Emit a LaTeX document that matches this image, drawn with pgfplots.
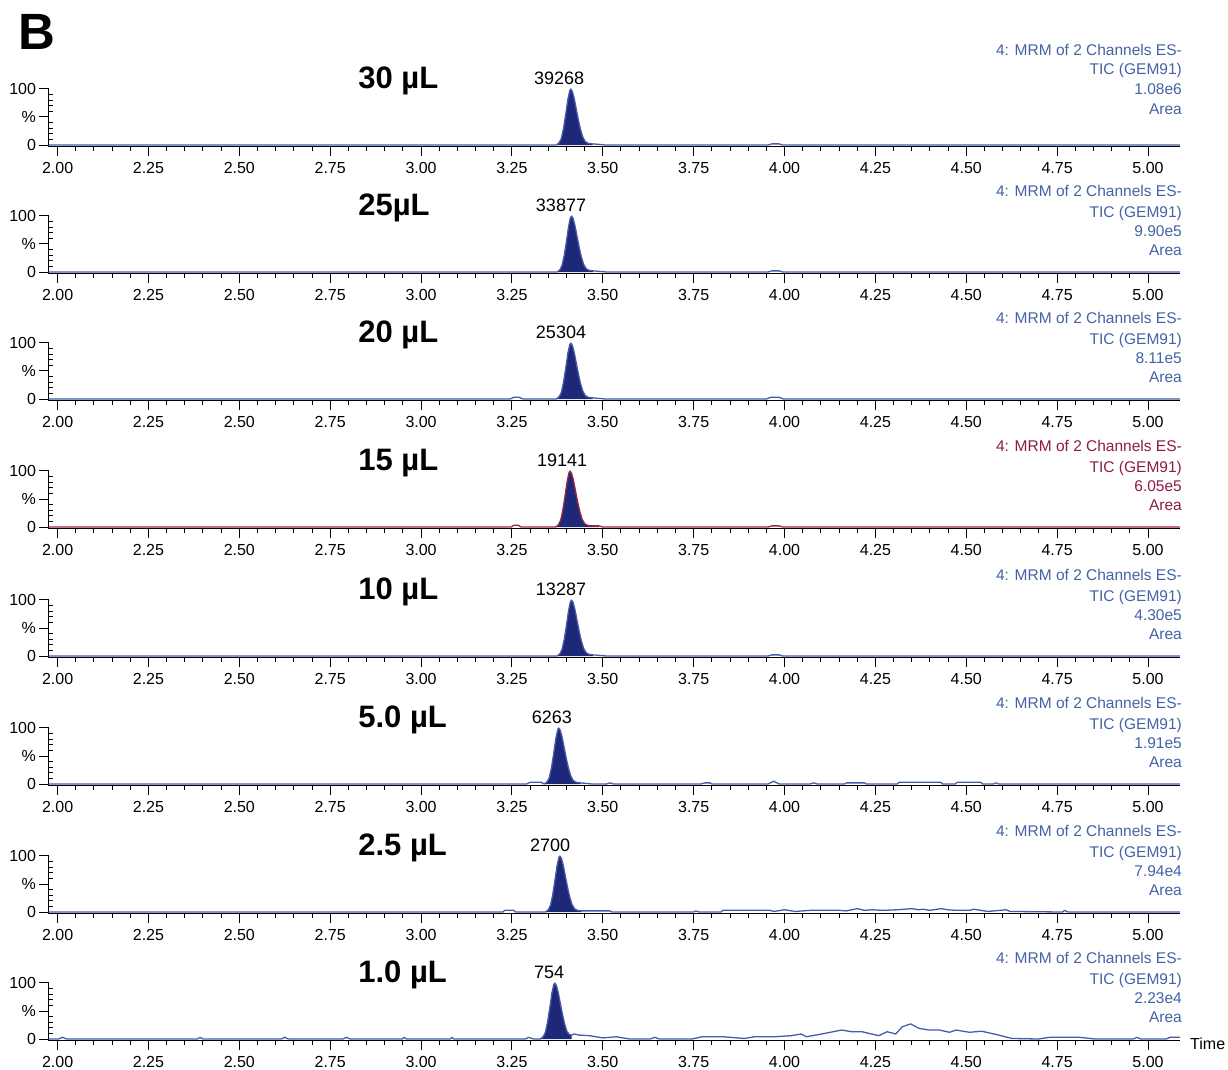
\documentclass[border=0pt]{standalone}
\usepackage{pgfplots}
\pgfplotsset{compat=1.18}
\usepackage{fontspec}
\setmainfont{Liberation Sans}

\definecolor{trace}{HTML}{4A5AA8}
\definecolor{peakfill}{HTML}{1E2878}
\definecolor{note}{HTML}{4462A4}
\definecolor{noteR}{HTML}{8C1A4A}
\definecolor{traceR}{HTML}{A0283C}

\pgfplotsset{
  chrom/.style={
    scale only axis, width=1131.5pt, height=57.7pt,
    xmin=1.975, xmax=5.088, ymin=-3, ymax=100,
    axis x line=bottom, axis y line=left,
    axis line style={-, line width=1.1pt, black},
    xtick={2,2.25,2.5,2.75,3,3.25,3.5,3.75,4,4.25,4.5,4.75,5},
    xticklabels={2.00,2.25,2.50,2.75,3.00,3.25,3.50,3.75,4.00,4.25,4.50,4.75,5.00},
    minor x tick num=4,
    ytick={0,50,100}, yticklabels={0,\%,100}, minor y tick num=4,
    tick align=outside, major tick length=9pt, minor tick length=4.5pt,
    tick style={black, line width=1pt},
    minor y tick style={xshift=4.5pt},
    ticklabel style={font=\fontsize{16}{18}\selectfont},
    xticklabel style={yshift=-3pt},
    clip=false, anchor=south west,
  },
  peak/.style={draw=none, fill=peakfill},
  tr/.style={trace, line width=1.3pt, line join=round},
}

% annotation block right of each panel: colour, value, baseline offsets
\newcommand{\notes}[6]{%
  \node[anchor=base east, inner sep=0, text=#1, font=\fontsize{15.5}{17}\selectfont] at (axis cs:5.0935,#3) {4: MRM of 2 Channels ES-};
  \node[anchor=base east, inner sep=0, text=#1, font=\fontsize{15.5}{17}\selectfont] at (axis cs:5.0935,#4) {TIC (GEM91)};
  \node[anchor=base east, inner sep=0, text=#1, font=\fontsize{15.5}{17}\selectfont] at (axis cs:5.0935,#5) {#2};
  \node[anchor=base east, inner sep=0, text=#1, font=\fontsize{15.5}{17}\selectfont] at (axis cs:5.0935,#6) {Area};
}
\newcommand{\vol}[1]{\node[anchor=base west, inner sep=0, font=\bfseries\fontsize{31}{34}\selectfont] at (axis cs:2.827,101) {#1};}
\newcommand{\plab}[2]{\node[anchor=base, inner sep=0, font=\fontsize{18}{20}\selectfont] at (axis cs:#1,108) {#2};}

\begin{document}
\begin{tikzpicture}
\useasboundingbox (0,0) rectangle (1228pt,1070pt);
\node[anchor=base west, inner sep=0, font=\bfseries\fontsize{51}{55}\selectfont] at (18pt,1020pt) {B};
\node[anchor=base west, inner sep=0, font=\fontsize{16}{18}\selectfont] at (1190pt,20pt) {Time};

% 30 uL
\begin{axis}[chrom, at={(48.5pt,923.3pt)}]
\addplot[peak] coordinates {(3.372,0) (3.380,4) (3.386,12) (3.392,30) (3.398,55) (3.404,82) (3.409,97) (3.412,100) (3.416,96) (3.421,84) (3.427,64) (3.433,44) (3.439,27) (3.445,14) (3.452,6) (3.460,3) (3.472,2)} \closedcycle;
\addplot[tr] coordinates {(1.975,0) (3.372,0) (3.380,4) (3.386,12) (3.392,30) (3.398,55) (3.404,82) (3.409,97) (3.412,100) (3.416,96) (3.421,84) (3.427,64) (3.433,44) (3.439,27) (3.445,14) (3.452,6) (3.460,3) (3.472,2) (3.492,1) (3.507,0) (3.955,0) (3.965,2) (3.985,2) (3.995,0) (5.088,0)};
\vol{30 µL}
\plab{3.380}{39268}
\notes{note}{1.08e6}{159}{125}{91}{55}
\end{axis}

% 25 uL
\begin{axis}[chrom, at={(48.5pt,796.3pt)}]
\addplot[peak] coordinates {(3.374,0) (3.382,4) (3.388,12) (3.394,30) (3.400,55) (3.406,82) (3.411,97) (3.414,100) (3.418,96) (3.423,84) (3.429,64) (3.435,44) (3.441,27) (3.447,14) (3.454,6) (3.462,3) (3.474,2)} \closedcycle;
\addplot[tr] coordinates {(1.975,0) (3.374,0) (3.382,4) (3.388,12) (3.394,30) (3.400,55) (3.406,82) (3.411,97) (3.414,100) (3.418,96) (3.423,84) (3.429,64) (3.435,44) (3.441,27) (3.447,14) (3.454,6) (3.462,3) (3.474,2) (3.494,1) (3.509,0) (3.955,0) (3.965,2) (3.985,2) (3.995,0) (5.088,0)};
\vol{25µL}
\plab{3.385}{33877}
\notes{note}{9.90e5}{134}{98}{64}{29}
\end{axis}

% 20 uL
\begin{axis}[chrom, at={(48.5pt,669.3pt)}]
\addplot[peak] coordinates {(3.372,0) (3.380,4) (3.386,12) (3.392,30) (3.398,55) (3.404,82) (3.409,97) (3.412,100) (3.416,96) (3.421,84) (3.427,64) (3.433,44) (3.439,27) (3.445,14) (3.452,6) (3.460,3) (3.472,2)} \closedcycle;
\addplot[tr] coordinates {(1.975,0) (3.245,0) (3.255,3) (3.270,3) (3.280,0) (3.372,0) (3.380,4) (3.386,12) (3.392,30) (3.398,55) (3.404,82) (3.409,97) (3.412,100) (3.416,96) (3.421,84) (3.427,64) (3.433,44) (3.439,27) (3.445,14) (3.452,6) (3.460,3) (3.472,2) (3.492,1) (3.507,0) (3.950,0) (3.962,3) (3.985,3) (3.997,0) (5.088,0)};
\vol{20 µL}
\plab{3.385}{25304}
\notes{note}{8.11e5}{134}{98}{64}{29}
\end{axis}

% 15 uL
\begin{axis}[chrom, at={(48.5pt,541.3pt)}]
\addplot[peak] coordinates {(3.370,0) (3.378,4) (3.384,12) (3.390,30) (3.396,55) (3.402,82) (3.407,97) (3.410,100) (3.414,96) (3.419,84) (3.425,64) (3.431,44) (3.437,27) (3.443,14) (3.450,6) (3.458,3) (3.470,2) (3.490,2)} \closedcycle;
\addplot[tr, traceR] coordinates {(1.975,0) (3.248,0) (3.255,3) (3.268,3) (3.275,0) (3.370,0) (3.378,4) (3.384,12) (3.390,30) (3.396,55) (3.402,82) (3.407,97) (3.410,100) (3.414,96) (3.419,84) (3.425,64) (3.431,44) (3.437,27) (3.443,14) (3.450,6) (3.458,3) (3.470,2) (3.490,2) (3.500,0) (3.955,0) (3.965,2) (3.985,2) (3.995,0) (5.088,0)};
\vol{15 µL}
\plab{3.388}{19141}
\notes{noteR}{6.05e5}{134}{98}{64}{29}
\end{axis}

% 10 uL
\begin{axis}[chrom, at={(48.5pt,412.3pt)}]
\addplot[peak] coordinates {(3.374,0) (3.382,4) (3.388,12) (3.394,30) (3.400,55) (3.406,82) (3.411,97) (3.414,100) (3.418,96) (3.423,84) (3.429,64) (3.435,44) (3.441,27) (3.447,14) (3.454,6) (3.462,3) (3.474,2)} \closedcycle;
\addplot[tr] coordinates {(1.975,0) (3.374,0) (3.382,4) (3.388,12) (3.394,30) (3.400,55) (3.406,82) (3.411,97) (3.414,100) (3.418,96) (3.423,84) (3.429,64) (3.435,44) (3.441,27) (3.447,14) (3.454,6) (3.462,3) (3.474,2) (3.494,1) (3.509,0) (3.955,0) (3.965,2) (3.985,2) (3.995,0) (5.088,0)};
\vol{10 µL}
\plab{3.385}{13287}
\notes{note}{4.30e5}{134}{98}{64}{29}
\end{axis}

% 5.0 uL
\begin{axis}[chrom, at={(48.5pt,284.3pt)}]
\addplot[peak] coordinates {(3.339,0) (3.347,4) (3.353,12) (3.359,30) (3.365,55) (3.371,82) (3.376,97) (3.379,100) (3.383,96) (3.388,84) (3.394,64) (3.400,44) (3.406,27) (3.412,14) (3.419,6) (3.427,3) (3.439,2)} \closedcycle;
\addplot[tr] coordinates {(1.975,0) (3.290,0) (3.300,3) (3.330,3) (3.339,0) (3.347,4) (3.353,12) (3.359,30) (3.365,55) (3.371,82) (3.376,97) (3.379,100) (3.383,96) (3.388,84) (3.394,64) (3.400,44) (3.406,27) (3.412,14) (3.419,6) (3.427,3) (3.439,2) (3.455,1) (3.470,0) (3.510,0) (3.520,2) (3.530,0) (3.770,0) (3.780,2) (3.795,2) (3.800,0) (3.955,0) (3.970,5) (3.985,0) (4.070,0) (4.080,2) (4.090,0) (4.165,0) (4.170,2) (4.220,2) (4.225,0) (4.310,0) (4.315,3) (4.430,3) (4.435,0) (4.470,0) (4.475,3) (4.540,3) (4.545,0) (4.575,0) (4.580,2) (4.590,0) (5.088,0)};
\vol{5.0 µL}
\plab{3.360}{6263}
\notes{note}{1.91e5}{134}{98}{64}{29}
\end{axis}

% 2.5 uL
\begin{axis}[chrom, at={(48.5pt,156.3pt)}]
\addplot[peak] coordinates {(3.342,0) (3.350,4) (3.356,12) (3.362,30) (3.368,55) (3.374,82) (3.379,97) (3.382,100) (3.386,96) (3.391,84) (3.397,64) (3.403,44) (3.409,27) (3.415,14) (3.422,6) (3.430,3) (3.442,2)} \closedcycle;
\addplot[tr] coordinates {(1.975,0) (3.225,0) (3.230,3) (3.255,3) (3.260,0) (3.342,0) (3.350,4) (3.356,12) (3.362,30) (3.368,55) (3.374,82) (3.379,97) (3.382,100) (3.386,96) (3.391,84) (3.397,64) (3.403,44) (3.409,27) (3.415,14) (3.422,6) (3.430,3) (3.442,2) (3.520,2) (3.525,0) (3.750,0) (3.755,2) (3.765,0) (3.825,0) (3.830,3) (3.960,3) (3.970,1) (4.000,4) (4.030,1) (4.070,3) (4.150,3) (4.170,2) (4.200,6) (4.220,3) (4.240,4) (4.270,3) (4.310,4) (4.350,6) (4.370,4) (4.380,5) (4.400,3) (4.430,6) (4.450,4) (4.470,3) (4.510,3) (4.520,5) (4.540,3) (4.560,1) (4.610,4) (4.620,1) (4.765,0) (4.770,3) (4.780,0) (5.088,0)};
\vol{2.5 µL}
\plab{3.355}{2700}
\notes{note}{7.94e4}{134}{98}{64}{29}
\end{axis}

% 1.0 uL
\begin{axis}[chrom, at={(48.5pt,29.3pt)}]
\addplot[peak] coordinates {(3.328,0) (3.336,4) (3.342,12) (3.348,30) (3.354,55) (3.360,82) (3.365,97) (3.368,100) (3.372,96) (3.377,84) (3.383,64) (3.389,44) (3.395,27) (3.401,14) (3.408,8) (3.414,7)} \closedcycle;
\addplot[tr] coordinates {(1.975,0) (2.003,0) (2.013,3) (2.025,0) (2.385,0) (2.392,3) (2.400,0) (2.615,0) (2.625,3) (2.635,0) (2.785,0) (2.795,3) (2.805,0) (2.948,0) (2.954,3) (2.960,0) (3.080,0) (3.085,3) (3.090,0) (3.287,0) (3.296,3) (3.310,0) (3.328,0) (3.336,4) (3.342,12) (3.348,30) (3.354,55) (3.360,82) (3.365,97) (3.368,100) (3.372,96) (3.377,84) (3.383,64) (3.389,44) (3.395,27) (3.401,14) (3.408,8) (3.414,7) (3.421,9) (3.435,7) (3.463,6) (3.500,2) (3.537,4) (3.574,0) (3.630,0) (3.643,3) (3.655,0) (3.745,0) (3.759,2) (3.773,4) (3.833,4) (3.889,1) (3.917,4) (3.972,4) (4.019,6) (4.046,9) (4.060,4) (4.102,9) (4.157,16) (4.185,13) (4.213,13) (4.259,6) (4.282,13) (4.306,9) (4.324,22) (4.347,27) (4.370,19) (4.398,16) (4.426,16) (4.454,12) (4.472,16) (4.509,12) (4.542,14) (4.583,8) (4.625,1) (4.698,0) (4.729,3) (4.813,3) (4.854,0) (4.960,0) (4.969,3) (4.980,0) (5.050,0) (5.060,3) (5.088,3)};
\vol{1.0 µL}
\plab{3.352}{754}
\notes{note}{2.23e4}{134}{98}{64}{29}
\end{axis}
\end{tikzpicture}
\end{document}
